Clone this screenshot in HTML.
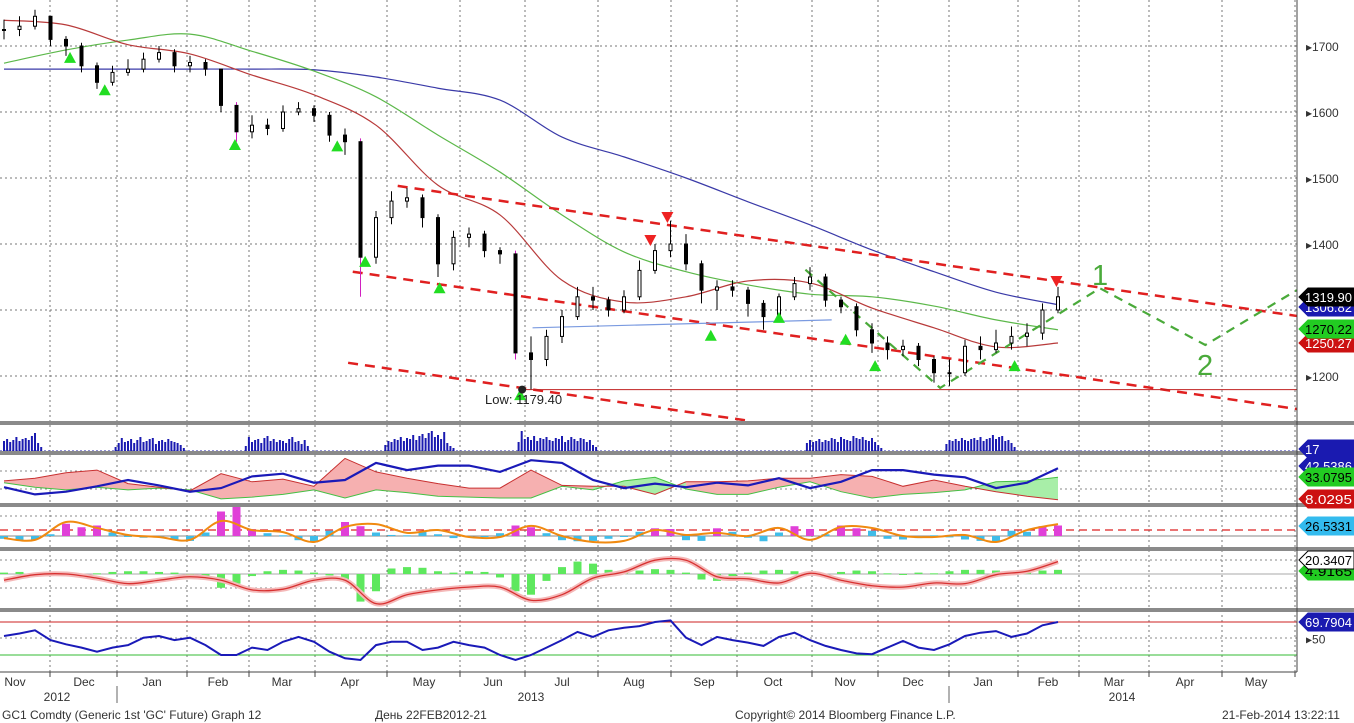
<!DOCTYPE html>
<html><head><meta charset="utf-8"><style>
html,body{margin:0;padding:0;background:#fff;}
svg{display:block;font-family:"Liberation Sans",sans-serif;}
</style></head><body>
<svg id="chart" width="1354" height="723" viewBox="0 0 1354 723" xmlns="http://www.w3.org/2000/svg">
<rect x="0" y="0" width="1354" height="723" fill="#fff"/>
<g id="grid"></g>
<g id="main"></g>
<g id="subs"></g>
<g id="axes"></g>
<g id="labels"></g>
</svg>
<script>
// ---- data (weekly, Nov 2012 - Feb 2014) ----
const closeP=[1725,1730,1745,1710,1700,1670,1645,1660,1665,1680,1690,1670,1675,1665,1610,1570,1580,1575,1600,1605,1595,1565,1555,1380,1440,1465,1470,1440,1370,1410,1415,1390,1385,1235,1225,1260,1290,1320,1315,1300,1320,1360,1390,1400,1370,1330,1335,1330,1310,1290,1320,1340,1350,1315,1305,1270,1250,1240,1245,1225,1205,1205,1245,1240,1250,1260,1265,1300,1320];
const highP=[1740,1745,1755,1745,1715,1705,1675,1670,1680,1690,1700,1695,1685,1680,1665,1615,1595,1590,1610,1615,1610,1600,1575,1560,1450,1480,1485,1475,1445,1420,1425,1420,1395,1390,1260,1270,1300,1335,1335,1320,1330,1375,1400,1435,1415,1375,1345,1345,1335,1315,1325,1350,1365,1355,1320,1310,1280,1260,1255,1250,1230,1225,1255,1260,1270,1275,1280,1310,1335];
const lowP=[1710,1715,1725,1700,1685,1660,1635,1640,1655,1660,1675,1660,1660,1655,1600,1555,1560,1565,1570,1595,1585,1555,1535,1320,1370,1430,1455,1425,1350,1360,1395,1380,1370,1225,1180,1215,1250,1285,1300,1290,1295,1315,1355,1380,1360,1310,1300,1320,1290,1270,1285,1315,1330,1305,1295,1260,1235,1225,1230,1215,1190,1185,1200,1225,1235,1240,1245,1255,1295];
// moving averages every 4 weeks
const maRed=[1739,1732,1702,1688,1656,1626,1580,1489,1444,1345,1312,1320,1344,1341,1303,1273,1244,1250];
const maGreen=[1674,1694,1709,1718,1692,1662,1623,1565,1509,1444,1388,1358,1338,1324,1320,1306,1285,1270];
const maBlue=[1665,1665,1665,1665,1665,1664,1653,1636,1618,1562,1532,1500,1464,1429,1391,1358,1327,1308];
// DMI every 2 weeks
const adx=[22,14,17,23,30,24,17,21,34,37,27,30,49,41,46,46,39,52,49,30,21,26,22,27,24,32,21,28,41,41,36,33,21,27,43];
const diMinus=[29,32,38,41,26,22,18,37,28,31,23,54,39,32,26,21,21,41,24,23,23,14,28,28,29,32,32,36,34,23,30,23,17,12,8];
const diPlus=[27,22,19,22,19,21,19,9,11,14,19,10,19,16,12,11,10,10,23,19,29,33,20,14,14,22,28,17,10,14,16,19,28,29,33];
// oscillator: smoothed every 2 weeks, histogram weekly
const oscLine=[-6,-11,40,23,3,-3,-11,43,17,11,-17,26,34,9,17,-3,-3,29,0,-17,-14,17,3,9,0,23,-11,26,23,0,-3,3,-17,17,34];
const oscHist=[-8,-12,-10,5,35,25,30,10,-2,-5,-4,-10,-14,10,70,85,20,8,2,-12,-18,15,40,28,10,3,2,12,5,-6,-4,-2,8,30,25,8,-12,-15,-14,-8,0,12,22,20,-12,-14,22,12,-5,-15,10,28,20,5,30,22,15,-8,-10,-6,2,-4,-10,-14,-18,15,12,28,30];
// MACD every 2 weeks, histogram weekly
const macdLine=[-9,-1,0,-6,-14,-9,-4,-9,-23,-22,-9,-9,-43,-30,-23,-19,-19,-38,-30,-6,3,20,20,-4,-7,-13,1,-9,-17,-19,-13,-14,-1,4,18];
const macdHist=[2,3,1,-1,-2,0,1,3,4,4,3,2,0,-8,-20,-14,-3,4,6,5,2,-2,-10,-40,-25,8,10,9,4,2,4,3,-5,-25,-30,-10,10,18,15,6,2,5,7,6,2,-8,-10,-3,2,5,6,4,-2,-4,3,5,4,1,-1,2,1,4,6,6,5,4,3,5,6];
// RSI weekly
const rsi=[53,56,60,48,43,39,34,39,42,51,53,48,51,42,30,30,39,36,46,52,46,34,26,24,42,46,46,36,39,46,42,39,30,24,30,39,48,58,52,60,63,65,70,72,51,42,52,48,45,41,52,57,48,41,36,32,31,39,47,39,36,43,53,57,59,52,56,66,70];
// volume bursts (start day index, values)
const volStarts=[0,36,78,123,166,259,304];
const volVals=[[10,12,9,11,14,10,12,13,11,15,18,8,4],[4,8,13,9,10,12,8,11,14,9,10,12,13,7,10,11,9,12,10,9,8,6,3],[5,14,9,11,12,8,13,15,10,12,9,11,10,8,12,14,9,10,7,11,5],[6,10,9,12,11,14,10,13,12,16,11,15,17,13,18,20,14,16,12,19,8,5,3],[9,20,12,14,11,15,10,13,12,14,11,10,13,12,15,9,11,14,12,10,13,12,9,11,6,4],[8,11,9,10,12,9,11,10,13,12,9,14,12,11,10,15,13,12,14,11,10,13,9,6,3],[7,11,10,12,10,13,11,10,12,13,11,14,10,12,13,16,12,14,15,10,11,8,4]];
const priceTicks=[1200,1300,1400,1500,1600,1700];
const monthNames=["Nov","Dec","Jan","Feb","Mar","Apr","May","Jun","Jul","Aug","Sep","Oct","Nov","Dec","Jan","Feb","Mar","Apr","May"];
const monthCenters=[15,84,152,218,282,350,424,493,562,634,704,773,845,913,983,1048,1114,1185,1256];
const monthBounds=[50,117,187,249,315,387,460,525,598,671,737,812,878,949,1018,1079,1149,1222,1295];
const greenTri=[[4.26,1682],[6.5,1633],[14.9,1550],[21.5,1548],[23.3,1373],[28.1,1333],[33.3,1171],[45.6,1261],[50,1288],[54.3,1255],[56.2,1215],[65.2,1215]];
const redTri=[[41.7,1406],[42.8,1441],[67.9,1344]];

// ---- scales ----
const NS="http://www.w3.org/2000/svg";
const xw=t=>4+15.5*t;
const xd=d=>4+3.1*d;
const yP=p=>376-(p-1200)*0.66;
const y2=v=>507-0.9*v;
const y3=v=>536-0.35*v;
const y4=v=>574-0.69*v;
const y5=v=>655-(v-30)*0.825;
function el(tag,attrs,parent){const e=document.createElementNS(NS,tag);for(const k in attrs)e.setAttribute(k,attrs[k]);parent.appendChild(e);return e;}
function pts(arr,step,ys){return arr.map((v,i)=>[xw(i*step),ys(v)]);}
function smooth(p){let d="M"+p[0][0]+","+p[0][1];for(let i=0;i<p.length-1;i++){const a=p[i-1]||p[i],b=p[i],c=p[i+1],e=p[i+2]||c;d+=" C"+(b[0]+(c[0]-a[0])/6)+","+(b[1]+(c[1]-a[1])/6)+" "+(c[0]-(e[0]-b[0])/6)+","+(c[1]-(e[1]-b[1])/6)+" "+c[0]+","+c[1];}return d;}
function line(p){return "M"+p.map(q=>q[0].toFixed(1)+","+q[1].toFixed(1)).join(" L");}
const G=document.getElementById("grid"),M=document.getElementById("main"),S=document.getElementById("subs"),A=document.getElementById("axes"),L=document.getElementById("labels");

// ---- grid ----
monthBounds.forEach(x=>{const g=el("line",{x1:x,y1:0,x2:x,y2:672,stroke:"#777","stroke-width":1,"stroke-dasharray":"2,3"},G);

});
priceTicks.forEach(p=>{const g=el("line",{x1:0,y1:yP(p),x2:1297,y2:yP(p),stroke:"#777","stroke-width":1,"stroke-dasharray":"2,3"},G);

});
[[471],[489],[516],[560],[588],[638]].forEach(r=>{const g=el("line",{x1:0,y1:r[0],x2:1297,y2:r[0],stroke:"#888","stroke-width":1,"stroke-dasharray":"2,3"},G);

});

// ---- main panel ----
function maPath(arr,color,name){const p=el("path",{d:smooth(pts(arr,4,yP)),fill:"none",stroke:color,"stroke-width":1.2},M);

}
maPath(maBlue,"#3a3aa8","ma-200-line");maPath(maGreen,"#5cb84a","ma-100-line");maPath(maRed,"#b83a3a","ma-50-line");
function dash(t1,p1,t2,p2,color,w,name){const e=el("line",{x1:xw(t1),y1:yP(p1),x2:xw(t2),y2:yP(p2),stroke:color,"stroke-width":w,"stroke-dasharray":"10,7"},M);

}
dash(25.4,1488,83.4,1291,"#e02020",2.5,"upper-channel-line");
dash(22.5,1358,83.4,1150,"#e02020",2.5,"middle-channel-line");
dash(22.2,1220,48.1,1132,"#e02020",2.5,"lower-channel-line");
const lowLine=el("line",{x1:xw(33.3),y1:yP(1179.4),x2:1297,y2:yP(1179.4),stroke:"#c02020","stroke-width":1},M);


const neck=el("line",{x1:xw(34.1),y1:yP(1273),x2:xw(53.4),y2:yP(1285),stroke:"#7a9ae0","stroke-width":1.2},M);


const proj=[[51.7,1361],[60.4,1182],[70.7,1333],[77.5,1247],[83.4,1330]];
const pj=el("path",{d:line(proj.map(q=>[xw(q[0]),yP(q[1])])),fill:"none",stroke:"#4aaa3a","stroke-width":2.2,"stroke-dasharray":"9,7"},M);


closeP.forEach((c,i)=>{const o=i?closeP[i-1]:c;const x=xw(i);
const w=el("line",{x1:x,y1:yP(highP[i]),x2:x,y2:yP(lowP[i]),stroke:(i===15||i===23||i===33)?"#d020c0":"#000","stroke-width":1},M);


const top=yP(Math.max(o,c)),bot=yP(Math.min(o,c));
const b=el("rect",{x:x-1.5,y:top,width:3,height:Math.max(1,bot-top),fill:c>=o?"#fff":"#000",stroke:"#000","stroke-width":1},M);

});
greenTri.forEach(q=>{const x=xw(q[0]),y=yP(q[1]);const t=el("polygon",{points:`${x-6},${y+5} ${x+6},${y+5} ${x},${y-6}`,fill:"#22dd22"},M);

});
redTri.forEach(q=>{const x=xw(q[0]),y=yP(q[1]);const t=el("polygon",{points:`${x-6},${y-5} ${x+6},${y-5} ${x},${y+6}`,fill:"#ee2222"},M);

});
const dot=el("circle",{cx:xw(33.3)+2,cy:yP(1179.4),r:4,fill:"#222"},M);


const lowTxt=el("text",{x:485,y:404,"font-size":13,fill:"#222"},M);lowTxt.textContent="Low:  1179.40";


[["1",1092,285],["2",1197,375]].forEach(a=>{const t=el("text",{x:a[1],y:a[2],"font-size":29,fill:"#4aaa3a"},M);t.textContent=a[0];

});

// ---- volume panel ----
const vb=el("line",{x1:0,y1:451,x2:1297,y2:451,stroke:"#2222aa","stroke-width":1,"stroke-dasharray":"2,2"},S);


volStarts.forEach((s,k)=>volVals[k].forEach((v,j)=>{const r=el("rect",{x:xd(s+j)-1,y:451-v,width:2,height:v,fill:"#1a1ab0"},S);

}));

// ---- DMI panel ----
for(let i=0;i<diMinus.length-1;i++){const xa=xw(2*i),xb=xw(2*i+2);const up=(diMinus[i]+diMinus[i+1])>=(diPlus[i]+diPlus[i+1]);
const f=el("polygon",{points:`${xa},${y2(diMinus[i])} ${xb},${y2(diMinus[i+1])} ${xb},${y2(diPlus[i+1])} ${xa},${y2(diPlus[i])}`,fill:up?"#f6b0b0":"#a8eea8"},S);

}
[[diPlus,"#44c044","di-plus-line",1],[diMinus,"#c83030","di-minus-line",1],[adx,"#1a1ab8","adx-line",2.2]].forEach(s=>{const p=el("path",{d:line(pts(s[0],2,y2)),fill:"none",stroke:s[1],"stroke-width":s[3]},S);

});

// ---- oscillator panel ----
const z3=el("line",{x1:0,y1:536,x2:1297,y2:536,stroke:"#888","stroke-width":1},S);


const d3=el("line",{x1:0,y1:530,x2:1297,y2:530,stroke:"#dd2020","stroke-width":1.3,"stroke-dasharray":"8,5"},S);


oscHist.forEach((v,i)=>{const y=y3(v);const r=el("rect",{x:xw(i)-4,y:Math.min(y,536),width:8,height:Math.max(1,Math.abs(536-y)),fill:v>17?"#e040d8":"#40bce8"},S);

});
const ol=el("path",{d:smooth(pts(oscLine,2,y3)),fill:"none",stroke:"#f08a10","stroke-width":2},S);



// ---- MACD panel ----
const z4=el("line",{x1:0,y1:574,x2:1297,y2:574,stroke:"#aaa","stroke-width":1},S);


macdHist.forEach((v,i)=>{const y=y4(v);const r=el("rect",{x:xw(i)-4,y:Math.min(y,574),width:8,height:Math.max(1,Math.abs(574-y)),fill:"#5ee85e"},S);

});
const ms=el("path",{d:smooth(pts(macdLine,2,y4)),fill:"none",stroke:"#f4b8b8","stroke-width":5},S);


const ml=el("path",{d:smooth(pts(macdLine,2,y4)),fill:"none",stroke:"#d83030","stroke-width":1.3},S);



// ---- RSI panel ----
const r70=el("line",{x1:0,y1:y5(70),x2:1297,y2:y5(70),stroke:"#cc2020","stroke-width":1},S);


const r30=el("line",{x1:0,y1:y5(30),x2:1297,y2:y5(30),stroke:"#33bb33","stroke-width":1},S);


const rl=el("path",{d:line(pts(rsi,1,y5)),fill:"none",stroke:"#1a1ab8","stroke-width":2},S);



// ---- separators & axes ----
[423,453,505,549,610].forEach(y=>{const r=el("rect",{x:0,y:y-2,width:1354,height:4,fill:"#8a8a8a"},A);

});
const ax=el("line",{x1:1297,y1:0,x2:1297,y2:672,stroke:"#444","stroke-width":1},A);


const bx=el("line",{x1:0,y1:672,x2:1297,y2:672,stroke:"#444","stroke-width":1},A);


priceTicks.forEach(p=>{const t=el("text",{x:1306,y:yP(p)+5,"font-size":12,fill:"#333"},A);t.textContent="\u25B8"+p;

});
const t50=el("text",{x:1306,y:y5(50)+5,"font-size":12,fill:"#333"},A);t50.textContent="\u25B850";


monthNames.forEach((m,i)=>{const t=el("text",{x:monthCenters[i],y:686,"font-size":12,fill:"#333","text-anchor":"middle"},A);t.textContent=m;

});
monthBounds.forEach(x=>{const t=el("line",{x1:x,y1:672,x2:x,y2:677,stroke:"#444"},A);

});
[["2012",57],["2013",531],["2014",1122]].forEach(a=>{const t=el("text",{x:a[1],y:701,"font-size":12,fill:"#333","text-anchor":"middle"},A);t.textContent=a[0];

});
[117,949].forEach(x=>{const t=el("line",{x1:x,y1:686,x2:x,y2:703,stroke:"#666"},A);

});
[["GC1 Comdty (Generic 1st 'GC' Future) Graph 12",2],["День 22FEB2012-21",375],["Copyright© 2014 Bloomberg Finance L.P.",735],["21-Feb-2014 13:22:11",1222]].forEach(a=>{const t=el("text",{x:a[1],y:719,"font-size":12,fill:"#333"},A);t.textContent=a[0];

});

// ---- right value labels ----
function tag(txt,y,bg,fg,name){const g=el("g",{},L);


el("polygon",{points:`1299,${y} 1308,${y-9} 1354,${y-9} 1354,${y+9} 1308,${y+9}`,fill:bg,stroke:bg==="#fff"?"#000":bg},g);
const t=el("text",{x:1305,y:y+5,"font-size":13,fill:fg},g);t.textContent=txt;
if(txt.length>5){t.setAttribute("textLength","47");t.setAttribute("lengthAdjust","spacingAndGlyphs");}}
tag("1306.82",307,"#1a1ab0","#fff","ma-200-value-tag");
tag("1319.90",297,"#000","#fff","last-price-tag");
tag("1250.27",343,"#cc1111","#fff","ma-50-value-tag");
tag("1270.22",329,"#22cc22","#000","ma-100-value-tag");
tag("17",449,"#1a1ab0","#fff","volume-value-tag");
tag("42.5386",466,"#1a1ab0","#fff","adx-value-tag");
tag("8.0295",499,"#cc1111","#fff","di-minus-value-tag");
tag("33.0795",477,"#22cc22","#000","di-plus-value-tag");
tag("26.5331",526,"#33bbee","#000","oscillator-value-tag");
tag("4.9165",571,"#22cc22","#000","macd-hist-value-tag");
tag("20.3407",560,"#fff","#000","macd-value-tag");
tag("69.7904",622,"#1a1ab0","#fff","rsi-value-tag");
</script>
</body></html>
